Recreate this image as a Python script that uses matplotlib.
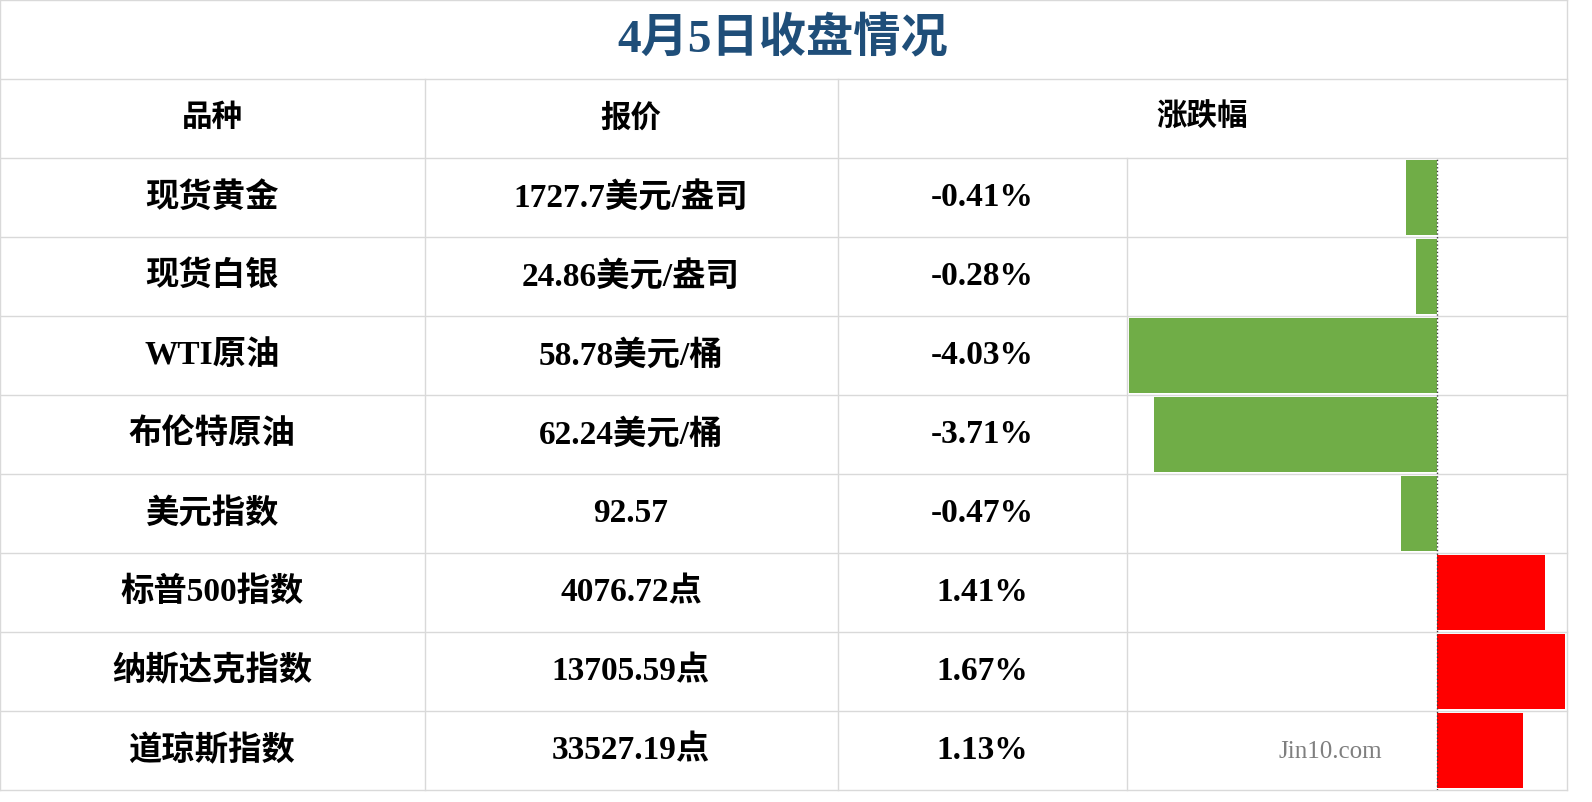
import matplotlib
matplotlib.use("Agg")
import matplotlib.pyplot as plt

plt.rcParams["font.family"] = ["Liberation Serif", "Noto Sans CJK SC"]

TITLE = "4月5日收盘情况"
HEADERS = ["品种", "报价", "涨跌幅"]
NAMES = ["现货黄金", "现货白银", "WTI原油", "布伦特原油", "美元指数",
         "标普500指数", "纳斯达克指数", "道琼斯指数"]
QUOTES = ["1727.7美元/盎司", "24.86美元/盎司", "58.78美元/桶", "62.24美元/桶",
          "92.57", "4076.72点", "13705.59点", "33527.19点"]
CHANGES = [-0.41, -0.28, -4.03, -3.71, -0.47, 1.41, 1.67, 1.13]

W, H = 1592, 802
fig = plt.figure(figsize=(W / 100, H / 100), dpi=100)
ax = fig.add_axes([0, 0, 1, 1])
ax.set_xlim(0, W); ax.set_ylim(H, 0); ax.axis("off")

cols = [0, 425, 838, 1127, 1567]
top, rh = 79, 79
nrow = len(NAMES)
bottom = top + rh * (nrow + 1)
gc = "#D9D9D9"
# grid
ax.plot([0, 1567], [0, 0], color=gc, lw=1)
for i in range(nrow + 2):
    y = top + i * rh
    ax.plot([0, 1567], [y, y], color=gc, lw=1)
ax.plot([0, 0], [0, bottom], color=gc, lw=1)
ax.plot([1567, 1567], [0, bottom], color=gc, lw=1)
for x in cols[1:3]:
    ax.plot([x, x], [top, bottom], color=gc, lw=1)
ax.plot([cols[3], cols[3]], [top + rh, bottom], color=gc, lw=1)

ax.text(783, 40, TITLE, ha="center", va="center", fontsize=34,
        fontweight="bold", color="#1F4E79")
hx = [212, 631, 1202]
for x, t in zip(hx, HEADERS):
    ax.text(x, top + rh / 2, t, ha="center", va="center", fontsize=22,
            fontweight="bold")
for i in range(nrow):
    yc = top + rh * (i + 1) + rh / 2
    ax.text(212, yc, NAMES[i], ha="center", va="center", fontsize=24, fontweight="bold")
    ax.text(631, yc, QUOTES[i], ha="center", va="center", fontsize=24, fontweight="bold")
    ax.text(982, yc, f"{CHANGES[i]:.2f}%", ha="center", va="center", fontsize=24,
            fontweight="bold")
ax.text(1330, 752, "Jin10.com", ha="center", va="center", fontsize=18,
        color="#7F7F7F")

# bar axes
bx = fig.add_axes([cols[3] / W, 1 - bottom / H, (cols[4] - cols[3]) / W,
                   rh * nrow / H])
bx.set_xlim(-4.06, 1.70); bx.set_ylim(nrow - 0.5, -0.5)
bx.axis("off")
colors = ["#70AD47" if v < 0 else "#FF0000" for v in CHANGES]
bx.barh(range(nrow), CHANGES, height=0.95, color=colors)
bx.axvline(0, color="#404040", lw=1, ls=":")
fig.savefig("out.png", dpi=100)
